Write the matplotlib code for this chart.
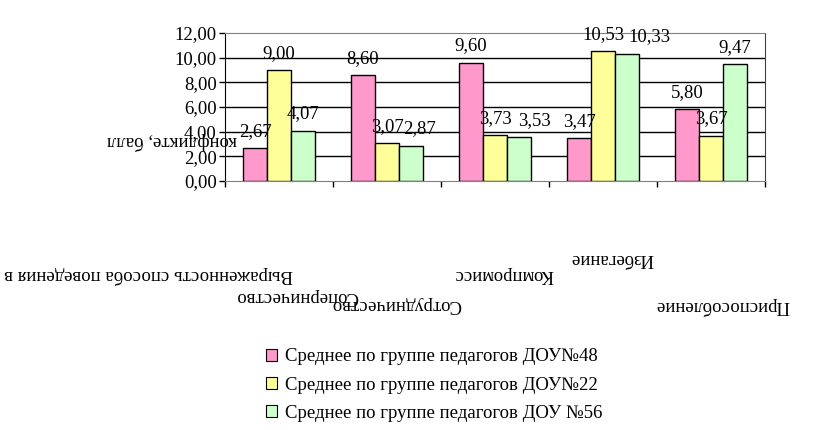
import numpy as np
import matplotlib
matplotlib.use("Agg")
import matplotlib.pyplot as plt
from matplotlib.patches import Patch

plt.rcParams['font.family'] = ['Liberation Serif', 'DejaVu Serif']

# data
categories = ['Соперничество', 'Сотрудничество', 'Компромисс', 'Избегание', 'Приспособление']
series_names = ['Среднее по группе педагогов ДОУ№48',
                'Среднее по группе педагогов ДОУ№22',
                'Среднее по группе педагогов ДОУ №56']
dou48 = [2.67, 8.60, 9.60, 3.47, 5.80]
dou22 = [9.00, 3.07, 3.73, 10.53, 3.67]
dou56 = [4.07, 2.87, 3.53, 10.33, 9.47]
colors = ['#FF99CC', '#FFFF99', '#CCFFCC']
y_ticks = [0, 2, 4, 6, 8, 10, 12]
ylabel_parts = ['Выраженность способа поведения в', 'конфликте, балл']

# sideways nudge (points) of the value labels, the third series is pushed right in the original
label_dx = [[0, 0, 0, 0, 0], [0, 0, 0, 0, 0], [0, 6, 11, 16, 0]]

fig = plt.figure(figsize=(8.33, 4.3), dpi=100)
ax = fig.add_axes([225/833, 1-181/430, 540/833, 148/430])

x = np.arange(len(categories))
w = 0.222
fs = 13.5
for i, (vals, c) in enumerate(zip([dou48, dou22, dou56], colors)):
    pos = x + (i - 1) * w
    ax.bar(pos, vals, width=w, color=c, edgecolor='black', linewidth=1, zorder=3)
    for px, v, dx in zip(pos, vals, label_dx[i]):
        ax.annotate(f'{v:.2f}'.replace('.', ','), (px, v), xytext=(dx, 6),
                    textcoords='offset points', ha='center', va='bottom',
                    fontsize=fs, zorder=4)

ax.set_xlim(-0.5, len(categories) - 0.5)
ax.set_ylim(0, 12)
ax.set_yticks(y_ticks)
ax.set_yticklabels([f'{t:.2f}'.replace('.', ',') for t in y_ticks], fontsize=fs)
ax.set_xticks(np.arange(len(categories) + 1) - 0.5)
ax.set_xticklabels([])
ax.tick_params(axis='both', direction='out', length=4, width=1, color='black')
ax.tick_params(axis='y', pad=2)

for t in y_ticks[1:-1]:
    ax.axhline(t, color='black', linewidth=1, zorder=1)
ax.axhline(12, xmin=0.5, xmax=1, color='black', linewidth=1.2, zorder=1)

ax.spines['left'].set_color('black')
for s in ['bottom', 'top']:
    ax.spines[s].set_color('#808080')
ax.spines['right'].set_color('#404040')

# upside-down labels, as in the original
fig.text(149/833, 1-275/430, ylabel_parts[0], rotation=180, ha='center', va='center', fontsize=fs)
fig.text(172/833, 1-141/430, ylabel_parts[1], rotation=180, ha='center', va='center', fontsize=fs)
cat_pos = [(297, 296), (396, 305), (504, 274), (612, 258), (722, 306)]
for name, (cx, cy) in zip(categories, cat_pos):
    fig.text(cx/833, 1-cy/430, name, rotation=180, ha='center', va='center', fontsize=fs)

handles = [Patch(facecolor=c, edgecolor='black', linewidth=0.8) for c in colors]
fig.legend(handles, series_names, loc='center left', bbox_to_anchor=(266/833, 1-385/430),
           frameon=False, fontsize=fs, handlelength=0.6, handleheight=0.6,
           handletextpad=0.4, labelspacing=0.6, borderaxespad=0, borderpad=0)

fig.savefig('out.png', dpi=100)
